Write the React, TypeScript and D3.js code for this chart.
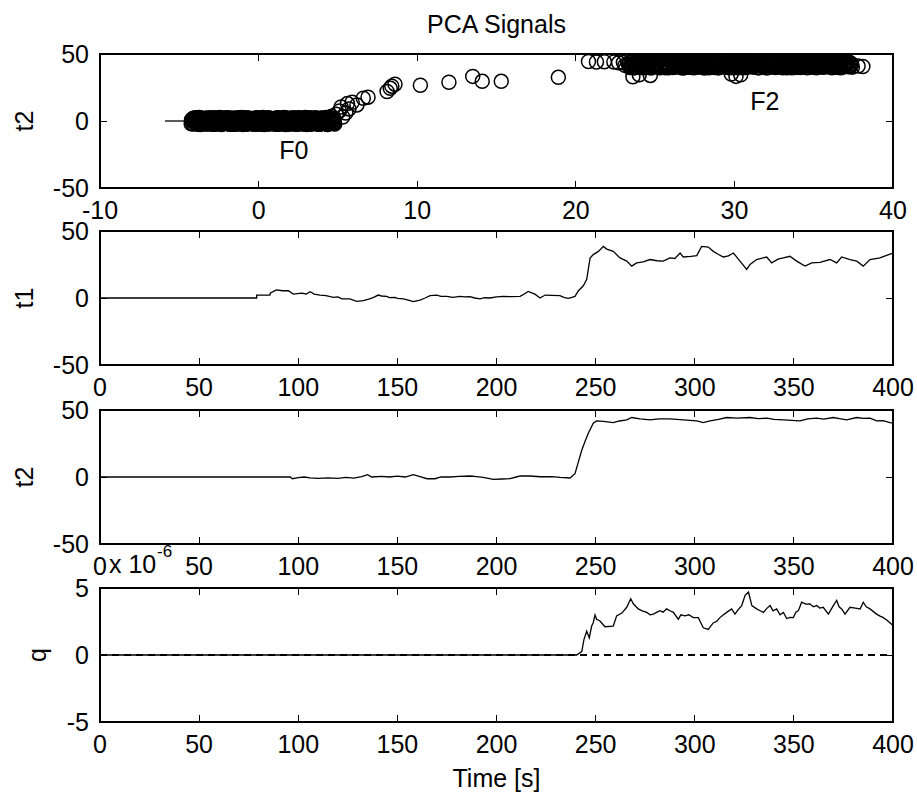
import React from 'react';
import * as d3 from 'd3';

const W = 917;
const H = 796;
const FONT = '"Liberation Sans", Arial, Helvetica, sans-serif';
const FS = 25;

// axis ticks
const SCATTER_X_TICKS = [-10, 0, 10, 20, 30, 40];
const TIME_TICKS = [0, 50, 100, 150, 200, 250, 300, 350, 400];
const SCORE_TICKS = [-50, 0, 50];
const Q_TICKS = [-5, 0, 5];

// t1 score vs time (breakpoints)
const T1_TIME = [0, 79, 79, 85.7, 86, 89, 92, 95, 97.5, 101.7, 104, 106, 108, 111, 114, 117.7, 120, 122, 126, 129.5,
  132.8, 136, 138, 140.4, 142, 144.6, 146, 148.8, 150, 153, 156, 158, 161.4, 164, 166.5, 169.8, 172, 174.9, 178, 181.6,
  184, 186.6, 189, 191.7, 194, 196.7, 200, 203.4, 207, 211.9, 214, 216, 219.4, 222, 224.5, 228, 232, 234, 236.2, 238,
  239.6, 241.3, 243.8, 245.5, 246.3, 247.2, 248.8, 251.4, 253.9, 255.6, 258.9, 262.3, 265.7, 268.2, 270.7, 274, 277.4,
  281, 284.1, 287.5, 290, 292.6, 294.2, 298, 301, 303.5, 306.8, 309.4, 312, 314.4, 317, 319.5, 322.8, 326.2, 327.9,
  331.2, 336.3, 338.8, 342, 344.7, 348, 351.4, 355.6, 359, 363.2, 368.2, 371.6, 374.1, 378.3, 381.7, 385, 388.4, 393.4,
  398.5, 400];
const T1_VAL = [0, 0, 2.2, 2.2, 3.7, 6.1, 5.4, 5.4, 2.9, 3.7, 3.0, 4.7, 2.9, 2.2, 1.7, 0.5, 0.8, -0.7, -0.7, -2.5,
  -2.0, -0.7, 0.5, 2.2, 1.5, 1.2, 0.3, 0.5, -0.3, -0.7, -1.8, -2.7, -1.5, 0, 1.7, 2.2, 1.2, 1.2, 0.5, 1.2,
  0.8, 1.0, 0, -0.7, 0.2, 0, 0.8, 1.2, 1.0, 1.2, 3.0, 4.9, 2.9, 0, 2.2, 2.0, 1.7, 0.5, -0.2, 0.5,
  1.2, 5.4, 9.1, 14, 21.3, 29.9, 32.4, 34.8, 38.5, 36.5, 34.8, 29.9, 27.5, 23.8, 26.2, 27, 28.7,
  27.8, 27.5, 29.9, 29.5, 33.6, 30.6, 31, 31.6, 38.5, 38, 34.8, 32.5, 30.6, 31.5, 33.6, 27.5, 21.3, 25,
  28.7, 30.6, 26.2, 29, 29.9, 31.1, 27.5, 23.8, 26.2, 26.6, 28.7, 26.2, 30.6, 28.7, 27.5, 23.8, 28.7, 29.9,
  32.8, 33.5];

// t2 score vs time
const T2_TIME = [0, 96, 97, 100, 103, 106, 110, 115, 120, 124, 128, 132, 135, 137, 142, 146, 150, 154, 158, 161, 165,
  169, 172, 176.5, 181, 186.6, 190, 193.3, 198.4, 203, 206.8, 210, 211.9, 216.9, 222, 228, 232, 237.1, 239.6, 241.3,
  243, 244.6, 246.3, 248.8, 250.5, 254, 258.9, 262, 265.7, 268.2, 272.4, 277.4, 282, 287.5, 294.2, 301, 304.3, 307.7,
  312, 316.1, 321.2, 327.9, 332, 336.3, 340, 344.7, 349, 353.1, 357, 361.5, 365, 369.9, 373, 376.6, 381.7, 385, 388.4,
  391.7, 395, 398.5, 400];
const T2_VAL = [0, 0, -1.3, -0.5, 0, -0.6, -1, -0.6, -1, -0.3, -0.8, 0.3, 1.7, 0, 0.5, 0, 0.6, 0, 1.7, 0.4, -1.3,
  -1.3, 0, 0, 0.5, 0.75, 0.3, -0.25, -1.75, -1.5, -1.25, 0, 0.75, 0.75, 0.2, 0.3, -0.25, -0.75, 2.5, 11.3,
  20, 26.3, 32.6, 40.1, 41.9, 41.5, 40.6, 41.8, 42.6, 44.4, 43.4, 42.6, 43.4, 43.4, 42.6, 41.9, 40.6, 41.9,
  43, 44.4, 43.9, 44.4, 43.6, 43.9, 43, 42.6, 42.2, 41.9, 43.4, 43.9, 43.2, 44.4, 43.5, 42.6, 44.4, 43.7, 43.9,
  41.9, 42, 40.6, 40.3];

// q statistic (x 1e-6) vs time
const Q_TIME = [0, 240.4, 243, 244.1, 245.5, 246.8, 248, 248.8, 249.7, 250.5, 252.2, 254.7, 258.9, 260.6, 263.2, 265.7,
  267.7, 269, 271.5, 273.5, 275.8, 277.5, 279.1, 281, 282.5, 284, 285.8, 287.5, 289.2, 291.7, 293, 295.1, 297, 299.3,
  301.8, 304.3, 306.8, 309.4, 311, 312.7, 314.5, 316.1, 318.6, 320.3, 322, 323.7, 325.4, 327.1, 328.8, 331.2, 333,
  334.6, 336.5, 338, 339.5, 341.3, 343, 344.7, 346.4, 348, 349.7, 351, 352.3, 353.9, 356, 358.1, 359.8, 361.5, 363,
  364.8, 367.4, 369.9, 371.6, 372.8, 374.1, 375.8, 378.3, 381, 383.4, 385, 386.5, 388.4, 391.7, 393.5, 395.1, 397,
  399.3, 400];
const Q_VAL = [0, 0, 0.25, 1.15, 1.78, 1.27, 2.16, 2.41, 2.98, 2.67, 2.54, 2.11, 2.16, 2.92, 3.13, 3.56,
  4.2, 3.82, 3.44, 3.3, 3.18, 3.0, 3.05, 3.2, 3.31, 3.2, 3.44, 3.3, 3.18, 2.67, 3.0, 2.92, 3.0, 2.79,
  2.79, 2.03, 1.91, 2.41, 2.5, 2.79, 3.0, 3.18, 3.44, 3.05, 3.4, 3.69, 4.45, 4.7, 3.69, 3.44, 3.3,
  3.18, 3.5, 3.69, 3.3, 3.44, 3.0, 3.18, 2.72, 2.8, 2.79, 3.2, 3.31, 3.94, 3.8, 3.82, 3.6, 3.69, 3.5,
  3.56, 3.05, 3.69, 4.07, 3.6, 3.44, 3.05, 3.56, 3.5, 3.44, 3.94, 3.6, 3.44, 3.05, 2.9, 2.79, 2.6,
  2.29, 2.2];
const Q_LIMIT = 0;

// t1 / t2 scatter, normal operation cluster (F0)
const F0_PTS: [number, number][] = [
  [-4.25, -2.1], [-4.17, 1.6], [-4.1, 0.2], [-4.02, -1.3], [-3.95, 2.4], [-3.86, -0.6], [-3.8, 1.0], [-3.71, -2.5],
  [-3.63, 0.7], [-3.55, 2.0], [-3.49, -1.7], [-3.4, -0.1], [-3.31, 1.3], [-3.25, -2.3], [-3.16, 2.5], [-3.08, 0.4],
  [-3.0, -0.9], [-2.93, 1.9], [-2.85, -1.5], [-2.77, 0.9], [-2.7, -2.4], [-2.61, 2.2], [-2.53, -0.3], [-2.46, 1.5],
  [-2.38, -2.1], [-2.3, 1.6], [-2.22, 0.2], [-2.14, -1.3], [-2.07, 2.4], [-1.98, -0.6], [-1.9, 1.0], [-1.83, -2.5],
  [-1.75, 0.7], [-1.66, 2.0], [-1.59, -1.7], [-1.5, -0.1], [-1.43, 1.3], [-1.35, -2.3], [-1.27, 2.5], [-1.2, 0.4],
  [-1.11, -0.9], [-1.03, 1.9], [-0.95, -1.5], [-0.88, 0.9], [-0.8, -2.4], [-0.71, 2.2], [-0.64, -0.3], [-0.56, 1.5],
  [-0.48, -2.1], [-0.4, 1.6], [-0.32, 0.2], [-0.25, -1.3], [-0.16, 2.4], [-0.08, -0.6], [0.0, 1.0], [0.07, -2.5],
  [0.15, 0.7], [0.24, 2.0], [0.31, -1.7], [0.39, -0.1], [0.47, 1.3], [0.55, -2.3], [0.62, 2.5], [0.7, 0.4],
  [0.79, -0.9], [0.86, 1.9], [0.94, -1.5], [1.02, 0.9], [1.1, -2.4], [1.17, 2.2], [1.26, -0.3], [1.33, 1.5],
  [1.41, -2.1], [1.49, 1.6], [1.57, 0.2], [1.64, -1.3], [1.73, 2.4], [1.8, -0.6], [1.88, 1.0], [1.96, -2.5],
  [2.04, 0.7], [2.12, 2.0], [2.19, -1.7], [2.28, -0.1], [2.35, 1.3], [2.43, -2.3], [2.51, 2.5], [2.59, 0.4],
  [2.66, -0.9], [2.74, 1.9], [2.83, -1.5], [2.9, 0.9], [2.98, -2.4], [3.06, 2.2], [3.13, -0.3], [3.22, 1.5],
  [3.29, -2.1], [3.37, 1.6], [3.45, 0.2], [3.53, -1.3], [3.6, 2.4], [3.69, -0.6], [3.76, 1.0], [3.84, -2.5],
  [3.92, 0.7], [4.0, 2.0], [4.07, -1.7], [4.16, -0.1], [4.23, 1.3], [4.31, -2.3], [4.39, 2.5], [4.47, 0.4],
  [4.55, -0.9], [4.62, 1.9], [4.7, -1.5], [4.78, 0.9],
  [4.6, 3.5], [4.9, 5.0], [5.1, 7.5], [5.3, 3.0], [5.5, 6.0], [5.2, 10.5], [5.7, 9.0],
];

// second batch of F0 samples
const F0_PTS_B: [number, number][] = [
  [-4.21, 1.1], [-4.13, -2.2], [-4.06, 2.3], [-3.98, -0.4], [-3.9, 0.6], [-3.83, -1.6], [-3.75, 2.6], [-3.67, -2.6],
  [-3.59, 0.0], [-3.52, 1.7], [-3.44, -1.0], [-3.36, 2.1], [-3.28, -1.9], [-3.21, 0.5], [-3.12, -0.7], [-3.04, 1.4],
  [-2.97, -2.4], [-2.89, 1.1], [-2.81, -2.2], [-2.73, 2.3], [-2.66, -0.4], [-2.57, 0.6], [-2.5, -1.6], [-2.42, 2.6],
  [-2.34, -2.6], [-2.26, 0.0], [-2.18, 1.7], [-2.1, -1.0], [-2.03, 2.1], [-1.94, -1.9], [-1.87, 0.5], [-1.79, -0.7],
  [-1.71, 1.4], [-1.62, -2.4], [-1.55, 1.1], [-1.47, -2.2], [-1.39, 2.3], [-1.31, -0.4], [-1.23, 0.6], [-1.16, -1.6],
  [-1.07, 2.6], [-0.99, -2.6], [-0.91, 0.0], [-0.84, 1.7], [-0.76, -1.0], [-0.67, 2.1], [-0.6, -1.9], [-0.52, 0.5],
  [-0.44, -0.7], [-0.36, 1.4], [-0.28, -2.4], [-0.21, 1.1], [-0.12, -2.2], [-0.04, 2.3], [0.04, -0.4], [0.11, 0.6],
  [0.19, -1.6], [0.28, 2.6], [0.35, -2.6], [0.43, 0.0], [0.51, 1.7], [0.59, -1.0], [0.66, 2.1], [0.74, -1.9],
  [0.83, 0.5], [0.9, -0.7], [0.98, 1.4], [1.06, -2.4], [1.14, 1.1], [1.21, -2.2], [1.3, 2.3], [1.37, -0.4],
  [1.45, 0.6], [1.53, -1.6], [1.61, 2.6], [1.68, -2.6], [1.77, 0.0], [1.84, 1.7], [1.92, -1.0], [2.0, 2.1],
  [2.08, -1.9], [2.16, 0.5], [2.23, -0.7], [2.32, 1.4], [2.39, -2.4], [2.47, 1.1], [2.55, -2.2], [2.63, 2.3],
  [2.7, -0.4], [2.78, 0.6], [2.87, -1.6], [2.94, 2.6], [3.02, -2.6], [3.1, 0.0], [3.17, 1.7], [3.26, -1.0],
  [3.33, 2.1], [3.41, -1.9], [3.49, 0.5], [3.57, -0.7], [3.64, 1.4], [3.73, -2.4], [3.8, 1.1], [3.88, -2.2],
  [3.96, 2.3], [4.04, -0.4], [4.11, 0.6], [4.2, -1.6], [4.27, 2.6], [4.35, -2.6], [4.43, 0.0], [4.51, 1.7],
  [4.58, -1.0], [4.66, 2.1], [4.74, -1.9],
];

// third batch of F0 samples
const F0_PTS_C: [number, number][] = [
  [-4.23, 0.3], [-4.15, -1.9], [-4.08, 1.8], [-3.99, -0.8], [-3.92, 2.5], [-3.84, -2.5], [-3.77, 0.9], [-3.69, -0.2],
  [-3.61, 2.0], [-3.53, -1.4], [-3.46, 1.2], [-3.38, -2.2], [-3.3, 0.6], [-3.22, 0.3], [-3.14, -1.9], [-3.06, 1.8],
  [-2.99, -0.8], [-2.91, 2.5], [-2.83, -2.5], [-2.75, 0.9], [-2.68, -0.2], [-2.59, 2.0], [-2.52, -1.4], [-2.44, 1.2],
  [-2.36, -2.2], [-2.28, 0.6], [-2.2, 0.3], [-2.12, -1.9], [-2.05, 1.8], [-1.96, -0.8], [-1.89, 2.5], [-1.81, -2.5],
  [-1.73, 0.9], [-1.64, -0.2], [-1.57, 2.0], [-1.49, -1.4], [-1.41, 1.2], [-1.33, -2.2], [-1.25, 0.6], [-1.18, 0.3],
  [-1.09, -1.9], [-1.01, 1.8], [-0.93, -0.8], [-0.86, 2.5], [-0.78, -2.5], [-0.69, 0.9], [-0.62, -0.2], [-0.54, 2.0],
  [-0.46, -1.4], [-0.38, 1.2], [-0.3, -2.2], [-0.23, 0.6], [-0.14, 0.3], [-0.06, -1.9], [0.02, 1.8], [0.09, -0.8],
  [0.17, 2.5], [0.26, -2.5], [0.33, 0.9], [0.41, -0.2], [0.49, 2.0], [0.57, -1.4], [0.64, 1.2], [0.72, -2.2],
  [0.81, 0.6], [0.88, 0.3], [0.96, -1.9], [1.04, 1.8], [1.12, -0.8], [1.19, 2.5], [1.28, -2.5], [1.35, 0.9],
  [1.43, -0.2], [1.51, 2.0], [1.59, -1.4], [1.66, 1.2], [1.75, -2.2], [1.82, 0.6], [1.9, 0.3], [1.98, -1.9],
  [2.06, 1.8], [2.14, -0.8], [2.21, 2.5], [2.3, -2.5], [2.37, 0.9], [2.45, -0.2], [2.53, 2.0], [2.61, -1.4],
  [2.68, 1.2], [2.76, -2.2], [2.85, 0.6], [2.92, 0.3], [3.0, -1.9], [3.08, 1.8], [3.15, -0.8], [3.24, 2.5],
  [3.31, -2.5], [3.39, 0.9], [3.47, -0.2], [3.55, 2.0], [3.62, -1.4], [3.71, 1.2], [3.78, -2.2], [3.86, 0.6],
  [3.94, 0.3], [4.02, -1.9], [4.09, 1.8], [4.18, -0.8], [4.25, 2.5], [4.33, -2.5], [4.41, 0.9], [4.49, -0.2],
  [4.56, 2.0], [4.64, -1.4], [4.72, 1.2], [4.8, -2.2],
];

// transition points between the two clusters
const MID_PTS: [number, number][] = [
  [5.6, 13], [5.9, 14], [6.6, 17], [6.9, 17.8], [6.2, 12], [8.1, 22], [8.3, 24.4], [8.6, 27.5], [8.4, 26],
  [10.2, 26.7], [12.0, 28.9], [13.5, 33.3], [14.1, 29.6], [15.3, 29.6], [18.9, 32.6],
];

// fault cluster (F2)
const F2_PTS: [number, number][] = [
  [20.8, 44.4], [21.3, 44.0], [21.8, 44.2], [22.4, 44.0], [22.7, 43.4], [23.0, 43.6], [23.1, 41.5],
  [23.6, 33.0], [24.0, 34.5], [24.7, 34.0], [29.8, 35.0], [30.1, 33.3], [30.4, 34.5],
  [23.32, 42.1], [23.41, 40.0], [23.47, 43.8], [23.58, 41.2], [23.66, 39.7], [23.71, 43.0], [23.83, 42.6], [23.9, 40.6],
  [23.98, 44.1], [24.07, 41.7], [24.15, 39.9], [24.22, 42.9], [24.33, 43.5], [24.38, 40.3], [24.49, 41.5], [24.57, 44.0],
  [24.63, 42.3], [24.74, 39.6], [24.81, 43.2], [24.9, 41.0], [24.96, 40.8], [25.08, 43.9], [25.13, 42.0], [25.24, 40.2],
  [25.31, 42.1], [25.39, 40.0], [25.47, 43.8], [25.58, 41.2], [25.64, 39.7], [25.73, 43.0], [25.82, 42.6], [25.88, 40.6],
  [25.97, 44.1], [26.06, 41.7], [26.12, 39.9], [26.23, 42.9], [26.3, 43.5], [26.37, 40.3], [26.48, 41.5], [26.55, 44.0],
  [26.63, 42.3], [26.72, 39.6], [26.79, 43.2], [26.88, 41.0], [26.95, 40.8], [27.04, 43.9], [27.12, 42.0], [27.19, 40.2],
  [27.3, 40.6], [27.36, 44.1], [27.45, 41.7], [27.53, 39.9], [27.6, 42.9], [27.71, 43.5], [27.78, 40.3], [27.86, 41.5],
  [27.95, 44.0], [28.03, 42.3], [28.1, 39.6], [28.21, 43.2], [28.27, 41.0], [28.36, 40.8], [28.44, 43.9], [28.52, 42.0],
  [28.61, 40.2], [28.69, 42.1], [28.77, 40.0], [28.84, 43.8], [28.95, 41.2], [29.01, 39.7], [29.1, 43.0], [29.18, 42.6],
  [29.26, 41.3], [29.35, 43.7], [29.42, 40.1], [29.51, 42.4], [29.58, 44.2], [29.67, 39.8], [29.75, 41.9], [29.83, 43.1],
  [29.92, 40.5], [29.99, 42.8], [30.08, 44.0], [30.16, 41.1], [30.24, 39.7], [30.33, 43.4], [30.4, 42.2], [30.49, 40.4],
  [30.57, 43.9], [30.64, 41.6], [30.73, 39.9], [30.81, 42.7], [30.9, 44.1], [30.97, 40.9], [31.06, 42.3], [31.14, 43.6],
  [31.21, 40.2], [31.3, 41.8], [31.38, 44.0], [31.47, 42.5], [31.54, 39.8], [31.63, 43.3], [31.7, 41.4], [31.79, 40.7],
  [31.87, 43.8], [31.95, 42.0], [32.03, 39.7], [32.12, 44.1], [32.19, 41.2], [32.28, 42.9], [32.36, 40.3], [32.43, 43.5],
  [32.52, 41.6], [32.6, 39.9], [32.68, 42.6], [32.77, 44.0], [32.84, 40.8], [32.93, 43.1], [33.0, 41.9], [33.09, 40.1],
  [33.17, 43.7], [33.25, 42.2], [33.33, 39.8], [33.42, 41.4], [33.49, 44.1], [33.58, 40.6], [33.66, 42.8], [33.74, 43.4],
  [33.82, 40.0], [33.9, 41.7], [33.99, 44.0], [34.07, 42.4], [34.14, 39.9], [34.23, 43.0], [34.31, 41.1], [34.39, 40.4],
  [34.48, 43.8], [34.55, 42.1], [34.64, 40.2], [34.71, 44.1], [34.8, 41.5], [34.88, 42.9], [34.96, 40.7], [35.05, 43.3],
  [35.13, 41.0], [35.2, 44.0], [35.29, 42.5], [35.37, 40.3], [35.45, 43.6], [35.54, 41.8], [35.61, 40.1], [35.7, 42.9],
  [35.78, 44.1], [35.86, 40.9], [35.95, 43.0], [36.03, 41.4], [36.11, 40.2], [36.19, 43.8], [36.28, 42.2], [36.35, 40.6],
  [36.44, 44.0], [36.52, 41.6], [36.6, 40.0], [36.69, 42.7], [36.76, 43.9], [36.85, 41.1], [36.93, 40.4], [37.01, 43.2],
  [37.1, 42.0], [37.18, 40.7], [37.27, 43.6], [37.35, 41.3], [37.44, 40.2], [37.8, 41.0], [38.1, 40.7],
];

// second batch of F2 samples
const F2_PTS_B: [number, number][] = [
  [23.36, 43.4], [23.44, 40.5], [23.53, 41.9], [23.62, 44.2], [23.69, 39.8], [23.78, 42.7], [23.86, 41.3], [23.94, 43.9],
  [24.03, 40.1], [24.11, 42.4], [24.19, 43.1], [24.28, 39.7], [24.35, 41.6], [24.44, 44.0], [24.53, 40.9], [24.6, 42.0],
  [24.69, 43.6], [24.77, 40.4], [24.86, 41.1], [24.93, 43.4], [25.02, 40.5], [25.1, 41.9], [25.19, 44.2], [25.27, 39.8],
  [25.35, 42.7], [25.43, 41.3], [25.52, 43.9], [25.6, 40.1], [25.68, 42.4], [25.77, 43.1], [25.85, 39.7], [25.93, 41.6],
  [26.02, 44.0], [26.09, 40.9], [26.18, 42.0], [26.27, 43.6], [26.34, 40.4], [26.43, 41.1], [26.51, 43.4], [26.59, 40.5],
  [26.68, 41.9], [26.76, 44.2], [26.84, 39.8], [26.92, 42.7], [27.01, 41.3], [27.08, 43.9], [27.17, 40.1], [27.26, 42.4],
  [27.33, 43.1], [27.41, 39.7], [27.5, 41.6], [27.58, 44.0], [27.66, 40.9], [27.75, 42.0], [27.82, 43.6], [27.91, 40.4],
  [27.99, 41.1], [28.07, 43.4], [28.16, 40.5], [28.24, 41.9], [28.32, 44.2], [28.4, 39.8], [28.48, 42.7], [28.57, 41.3],
  [28.65, 43.9], [28.73, 40.1], [28.81, 42.4], [28.9, 43.1], [28.98, 39.7], [29.06, 41.6], [29.14, 44.0], [29.22, 40.9],
  [29.31, 42.0], [29.39, 43.6], [29.47, 40.4], [29.55, 41.1], [29.63, 43.4], [29.71, 40.5], [29.8, 41.9], [29.88, 44.2],
  [29.96, 39.8], [30.04, 42.7], [30.12, 41.3], [30.2, 43.9], [30.29, 40.1], [30.37, 42.4], [30.45, 43.1], [30.53, 39.7],
  [30.61, 41.6], [30.69, 44.0], [30.78, 40.9], [30.86, 42.0], [30.94, 43.6], [31.02, 40.4], [31.1, 41.1], [31.18, 43.4],
  [31.26, 40.5], [31.35, 41.9], [31.43, 44.2], [31.51, 39.8], [31.59, 42.7], [31.67, 41.3], [31.75, 43.9], [31.83, 40.1],
  [31.91, 42.4], [32.0, 43.1], [32.08, 39.7], [32.16, 41.6], [32.24, 44.0], [32.32, 40.9], [32.4, 42.0], [32.48, 43.6],
  [32.56, 40.4], [32.64, 41.1], [32.73, 43.4], [32.81, 40.5], [32.89, 41.9], [32.97, 44.2], [33.05, 39.8], [33.13, 42.7],
  [33.21, 41.3], [33.29, 43.9], [33.37, 40.1], [33.46, 42.4], [33.54, 43.1], [33.62, 39.7], [33.7, 41.6], [33.78, 44.0],
  [33.86, 40.9], [33.94, 42.0], [34.03, 43.6], [34.11, 40.4], [34.19, 41.1], [34.27, 43.4], [34.35, 40.5], [34.43, 41.9],
  [34.51, 44.2], [34.59, 39.8], [34.68, 42.7], [34.76, 41.3], [34.84, 43.9], [34.92, 40.1], [35.0, 42.4], [35.09, 43.1],
  [35.17, 39.7], [35.25, 41.6], [35.33, 44.0], [35.41, 40.9], [35.5, 42.0], [35.58, 43.6], [35.66, 40.4], [35.74, 41.1],
  [35.82, 43.4], [35.9, 40.5], [35.99, 41.9], [36.07, 44.2], [36.15, 39.8], [36.23, 42.7], [36.31, 41.3], [36.4, 43.9],
  [36.48, 40.1], [36.56, 42.4], [36.64, 43.1], [36.72, 39.7], [36.81, 41.6], [36.89, 44.0], [36.97, 40.9], [37.05, 42.0],
  [37.14, 43.6], [37.22, 40.4], [37.3, 41.1], [37.39, 42.5],
];

// short stub drawn left of the F0 cluster
const STUB: [number, number][] = [[-5.9, 0], [-4.7, 0]];

const CLUSTER_LABELS = [
  { text: 'F0', x: 1.3, y: -22 },
  { text: 'F2', x: 31, y: 15 },
];

// layout
const LEFT = 100;
const RIGHT = 893;
const PANEL_TOPS = [54, 231, 410, 588];
const PANEL_H = 134;
const TICK = 7;

type Scale = d3.ScaleLinear<number, number>;

function Axes({ x, y, xTicks, yTicks, label, labelX }: {
  x: Scale; y: Scale; xTicks: number[]; yTicks: number[]; label: string; labelX: number;
}) {
  const [y0, y1] = [y.range()[1], y.range()[0]];
  const mid = (y0 + y1) / 2;
  return (
    <g>
      <g stroke="#000" shapeRendering="crispEdges">
        {xTicks.map(t => (
          <g key={'x' + t}>
            <line x1={x(t)} x2={x(t)} y1={y1} y2={y1 - TICK} />
            <line x1={x(t)} x2={x(t)} y1={y0} y2={y0 + TICK} />
          </g>
        ))}
        {yTicks.map(t => (
          <g key={'y' + t}>
            <line x1={LEFT} x2={LEFT + TICK} y1={y(t)} y2={y(t)} />
            <line x1={RIGHT} x2={RIGHT - TICK} y1={y(t)} y2={y(t)} />
          </g>
        ))}
        <rect x={LEFT} y={y0} width={RIGHT - LEFT} height={y1 - y0} fill="none" strokeWidth={1.5} />
      </g>
      {xTicks.map(t => (
        <text key={'xl' + t} x={x(t)} y={y1 + 31} textAnchor="middle">{String(t)}</text>
      ))}
      {yTicks.map(t => (
        <text key={'yl' + t} x={89} y={y(t)} dy="0.36em" textAnchor="end">{String(t)}</text>
      ))}
      <text transform={`translate(${labelX},${mid}) rotate(-90)`} textAnchor="middle">{label}</text>
    </g>
  );
}

export default function App() {
  const xs = d3.scaleLinear().domain([-10, 40]).range([LEFT, RIGHT]);
  const xt = d3.scaleLinear().domain([0, 400]).range([LEFT, RIGHT]);
  const yScale = (i: number, dom: [number, number]) =>
    d3.scaleLinear().domain(dom).range([PANEL_TOPS[i] + PANEL_H, PANEL_TOPS[i]]);
  const y1 = yScale(0, [-50, 50]);
  const y2 = yScale(1, [-50, 50]);
  const y3 = yScale(2, [-50, 50]);
  const y4 = yScale(3, [-5, 5]);

  const series = (tt: number[], vv: number[], ys: Scale) =>
    d3.line<number>().x((_, i) => xt(tt[i])).y(v => ys(v))(vv) || '';

  const stubPath = d3.line<[number, number]>().x(d => xs(d[0])).y(d => y1(d[1]))(STUB) || '';
  const limitPath = d3.line<number>().x(t => xt(t)).y(() => y4(Q_LIMIT))([0, 400]) || '';

  const allPts = [...F0_PTS, ...F0_PTS_B, ...F0_PTS_C, ...MID_PTS, ...F2_PTS, ...F2_PTS_B];

  return (
    <svg width={W} height={H} style={{ position: 'absolute', left: 0, top: 0, background: '#fff' }}
      fontFamily={FONT} fontSize={FS} fill="#000">
      <rect width={W} height={H} fill="#fff" />
      <text x={(LEFT + RIGHT) / 2} y={33} textAnchor="middle">PCA Signals</text>

      {/* scatter t1 vs t2 */}
      <g fill="none" stroke="#000" strokeWidth={1.5}>
        {allPts.map((p, i) => <circle key={i} cx={xs(p[0])} cy={y1(p[1])} r={7} />)}
      </g>
      <path d={stubPath} fill="none" stroke="#000" strokeWidth={1.3} />
      {CLUSTER_LABELS.map(l => (
        <text key={l.text} x={xs(l.x)} y={y1(l.y)} dy="0.36em">{l.text}</text>
      ))}
      <Axes x={xs} y={y1} xTicks={SCATTER_X_TICKS} yTicks={SCORE_TICKS} label="t2" labelX={33} />

      {/* t1 vs time */}
      <path d={series(T1_TIME, T1_VAL, y2)} fill="none" stroke="#000" strokeWidth={1.3} />
      <Axes x={xt} y={y2} xTicks={TIME_TICKS} yTicks={SCORE_TICKS} label="t1" labelX={33} />

      {/* t2 vs time */}
      <path d={series(T2_TIME, T2_VAL, y3)} fill="none" stroke="#000" strokeWidth={1.3} />
      <Axes x={xt} y={y3} xTicks={TIME_TICKS} yTicks={SCORE_TICKS} label="t2" labelX={33} />

      {/* q vs time */}
      <path d={series(Q_TIME, Q_VAL, y4)} fill="none" stroke="#000" strokeWidth={1.3} />
      <path d={limitPath} fill="none" stroke="#000" strokeWidth={1.3} strokeDasharray="7,5"
        shapeRendering="crispEdges" />
      <Axes x={xt} y={y4} xTicks={TIME_TICKS} yTicks={Q_TICKS} label="q" labelX={46} />
      <text x={109} y={PANEL_TOPS[3] - 15}>x 10</text>
      <text x={157} y={PANEL_TOPS[3] - 31} fontSize={17}>-6</text>

      <text x={(LEFT + RIGHT) / 2} y={787} textAnchor="middle">Time [s]</text>
    </svg>
  );
}
